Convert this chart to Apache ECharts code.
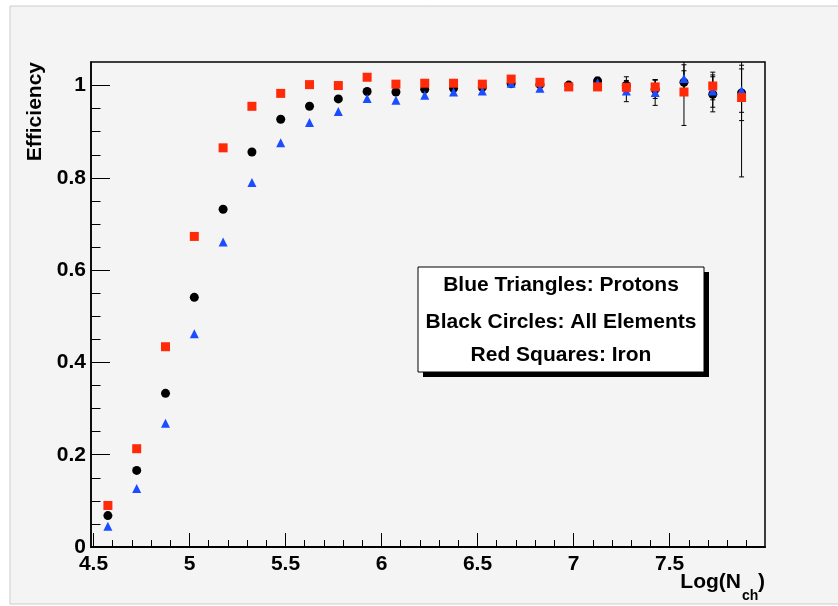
<!DOCTYPE html>
<html>
<head>
<meta charset="utf-8">
<title>Efficiency vs Log(Nch)</title>
<script src="https://cdn.jsdelivr.net/npm/echarts@6/dist/echarts.min.js"></script>
<style>
  html, body { margin: 0; padding: 0; background: #fff; }
  #chart { width: 838px; height: 606px; }
</style>
</head>
<body>
<div id="chart"></div>
<script>
// bin centres of Log(Nch)
var xVals = [4.575, 4.725, 4.875, 5.025, 5.175, 5.325, 5.475, 5.625, 5.775, 5.925, 6.075, 6.225,
  6.375, 6.525, 6.675, 6.825, 6.975, 7.125, 7.275, 7.425, 7.575, 7.725, 7.875]

// efficiencies
var protons = [0.045, 0.127, 0.268, 0.462, 0.661, 0.790, 0.876, 0.920, 0.944, 0.972, 0.968, 0.979,
  0.986, 0.988, 1.005, 0.994, 0.998, 1.006, 0.988, 0.985, 1.015, 0.988, 0.989]
var allElements = [0.068, 0.166, 0.333, 0.541, 0.732, 0.856, 0.927, 0.955, 0.971, 0.987, 0.986, 0.992,
  0.994, 0.996, 1.004, 1.002, 1.001, 1.010, 1.000, 0.992, 1.007, 0.981, 0.984]
var iron = [0.090, 0.213, 0.434, 0.673, 0.865, 0.955, 0.983, 1.002, 1.000, 1.018, 1.003, 1.005,
  1.005, 1.003, 1.014, 1.007, 0.997, 0.997, 0.996, 0.997, 0.986, 0.999, 0.974]

// errors (only the last bins stick out of the markers)
var protonsErr = [0, 0, 0, 0, 0, 0, 0, 0, 0, 0, 0, 0, 0, 0, 0, 0, 0, 0.008, 0.023, 0.028, 0.030, 0.035, 0.047]
var allErr = [0, 0, 0, 0, 0, 0, 0, 0, 0, 0, 0, 0, 0, 0, 0, 0, 0, 0.008, 0.019, 0.020, 0.025, 0.038, 0.060]
var ironErr = [0, 0, 0, 0, 0, 0, 0, 0, 0, 0, 0, 0, 0, 0, 0, 0, 0, 0.006, 0.012, 0.015, 0.0725, 0.030, 0.172]

// axis ticks
var xMajor = [4.5, 5, 5.5, 6, 6.5, 7, 7.5]
var xMinor = [4.6, 4.7, 4.8, 4.9, 5.1, 5.2, 5.3, 5.4, 5.6, 5.7, 5.8, 5.9, 6.1, 6.2, 6.3, 6.4,
  6.6, 6.7, 6.8, 6.9, 7.1, 7.2, 7.3, 7.4, 7.6, 7.7, 7.8, 7.9]
var yMajor = [0, 0.2, 0.4, 0.6, 0.8, 1]
var yMinor = [0.05, 0.1, 0.15, 0.25, 0.3, 0.35, 0.45, 0.5, 0.55, 0.65, 0.7, 0.75, 0.85, 0.9, 0.95]

var legendLines = ['Blue Triangles: Protons', 'Black Circles: All Elements', 'Red Squares: Iron']

var X_MIN = 4.487, X_MAX = 7.997, Y_MIN = 0, Y_MAX = 1.051
var FONT = '"Liberation Sans", Arial, Helvetica, sans-serif'

var pairs = function (ys) { return xVals.map(function (x, i) { return [x, ys[i]] }) }
var errPairs = function (ys, es) {
  var out = []
  xVals.forEach(function (x, i) { if (es[i] > 0) out.push([x, ys[i] - es[i], ys[i] + es[i]]) })
  return out
}

var renderErr = function (params, api) {
  var x = api.value(0), lo = api.value(1), hi = api.value(2)
  var capLo = lo >= Y_MIN, capHi = hi <= Y_MAX
  lo = Math.max(lo, Y_MIN); hi = Math.min(hi, Y_MAX)
  var p1 = api.coord([x, lo]), p2 = api.coord([x, hi])
  var st = { stroke: '#000', lineWidth: 1 }
  var kids = [{ type: 'line', shape: { x1: p1[0], y1: p1[1], x2: p2[0], y2: p2[1] }, style: st }]
  if (capLo) kids.push({ type: 'line', shape: { x1: p1[0] - 2.5, y1: p1[1], x2: p1[0] + 2.5, y2: p1[1] }, style: st })
  if (capHi) kids.push({ type: 'line', shape: { x1: p2[0] - 2.5, y1: p2[1], x2: p2[0] + 2.5, y2: p2[1] }, style: st })
  return { type: 'group', children: kids }
}

var errSeries = function (ys, es) {
  return { type: 'custom', xAxisIndex: 0, yAxisIndex: 0, z: 1, silent: true,
    data: errPairs(ys, es), renderItem: renderErr, encode: { x: 0, y: [1, 2] } }
}

var labelStyle = { color: '#000', fontFamily: FONT, fontWeight: 'bold', fontSize: 21 }

var myChart = echarts.init(document.getElementById('chart'))

var option = {
  backgroundColor: '#ffffff',
  animation: false,
  grid: {
    left: 91, right: 73, top: 62, bottom: 59,
    show: true, borderColor: '#000', borderWidth: 1.5, backgroundColor: 'transparent',
    outerBoundsMode: 'none'
  },
  xAxis: [
    {
      type: 'value', min: X_MIN, max: X_MAX,
      axisLine: { lineStyle: { color: '#000', width: 2 } },
      axisTick: { inside: true, length: 14, customValues: xMajor, lineStyle: { color: '#000', width: 1 } },
      axisLabel: Object.assign({ customValues: xMajor, margin: 7 }, labelStyle),
      splitLine: { show: false }
    },
    {
      type: 'value', min: X_MIN, max: X_MAX, position: 'bottom',
      axisLine: { show: false },
      axisTick: { inside: true, length: 7, customValues: xMinor, lineStyle: { color: '#000', width: 1 } },
      axisLabel: { show: false },
      splitLine: { show: false }
    }
  ],
  yAxis: [
    {
      type: 'value', min: Y_MIN, max: Y_MAX,
      axisLine: { show: true, lineStyle: { color: '#000', width: 1.5 } },
      axisTick: { show: true, inside: true, length: 19, customValues: yMajor, lineStyle: { color: '#000', width: 1 } },
      axisLabel: Object.assign({ customValues: yMajor, margin: 5 }, labelStyle),
      splitLine: { show: false }
    },
    {
      type: 'value', min: Y_MIN, max: Y_MAX, position: 'left',
      axisLine: { show: false },
      axisTick: { show: true, inside: true, length: 9.5, customValues: yMinor, lineStyle: { color: '#000', width: 1 } },
      axisLabel: { show: false },
      splitLine: { show: false }
    }
  ],
  series: [
    errSeries(protons, protonsErr),
    errSeries(allElements, allErr),
    errSeries(iron, ironErr),
    {
      name: 'All Elements', type: 'scatter', data: pairs(allElements), z: 3,
      symbol: 'circle', symbolSize: 9, itemStyle: { color: '#000000', opacity: 1 }
    },
    {
      name: 'Protons', type: 'scatter', data: pairs(protons), z: 4,
      symbol: 'triangle', symbolSize: 9, itemStyle: { color: '#1a4dff', opacity: 1 }
    },
    {
      name: 'Iron', type: 'scatter', data: pairs(iron), z: 5,
      symbol: 'rect', symbolSize: 9, itemStyle: { color: '#ff2a08', opacity: 1 }
    }
  ],
  graphic: [
    // pad
    { type: 'rect', z: -100, shape: { x: 10, y: 6, width: 830, height: 598 },
      style: { fill: '#f4f4f4', stroke: '#cccccc', lineWidth: 1 } },
    // axis titles
    { type: 'text', x: 35, y: 62, rotation: Math.PI / 2, z: 10,
      style: { text: 'Efficiency', fill: '#000', font: 'bold 21px ' + FONT, textAlign: 'right', textVerticalAlign: 'middle' } },
    { type: 'text', x: 741, y: 593, z: 10,
      style: { text: 'Log(N', fill: '#000', font: 'bold 21px ' + FONT, textAlign: 'right', textVerticalAlign: 'bottom' } },
    { type: 'text', x: 742, y: 603, z: 10,
      style: { text: 'ch', fill: '#000', font: 'bold 14px ' + FONT, textAlign: 'left', textVerticalAlign: 'bottom' } },
    { type: 'text', x: 758, y: 593, z: 10,
      style: { text: ')', fill: '#000', font: 'bold 21px ' + FONT, textAlign: 'left', textVerticalAlign: 'bottom' } },
    // legend box with shadow
    { type: 'rect', z: 20, shape: { x: 423, y: 272, width: 286, height: 105 }, style: { fill: '#000' } },
    { type: 'rect', z: 21, shape: { x: 418, y: 267, width: 286, height: 105 },
      style: { fill: '#ffffff', stroke: '#000', lineWidth: 1 } },
    { type: 'text', x: 561, y: 285, z: 22,
      style: { text: legendLines[0], fill: '#000', font: 'bold 21px ' + FONT, textAlign: 'center', textVerticalAlign: 'middle' } },
    { type: 'text', x: 561, y: 322, z: 22,
      style: { text: legendLines[1], fill: '#000', font: 'bold 21px ' + FONT, textAlign: 'center', textVerticalAlign: 'middle' } },
    { type: 'text', x: 561, y: 355, z: 22,
      style: { text: legendLines[2], fill: '#000', font: 'bold 21px ' + FONT, textAlign: 'center', textVerticalAlign: 'middle' } }
  ]
}

myChart.setOption(option)
</script>
</body>
</html>
